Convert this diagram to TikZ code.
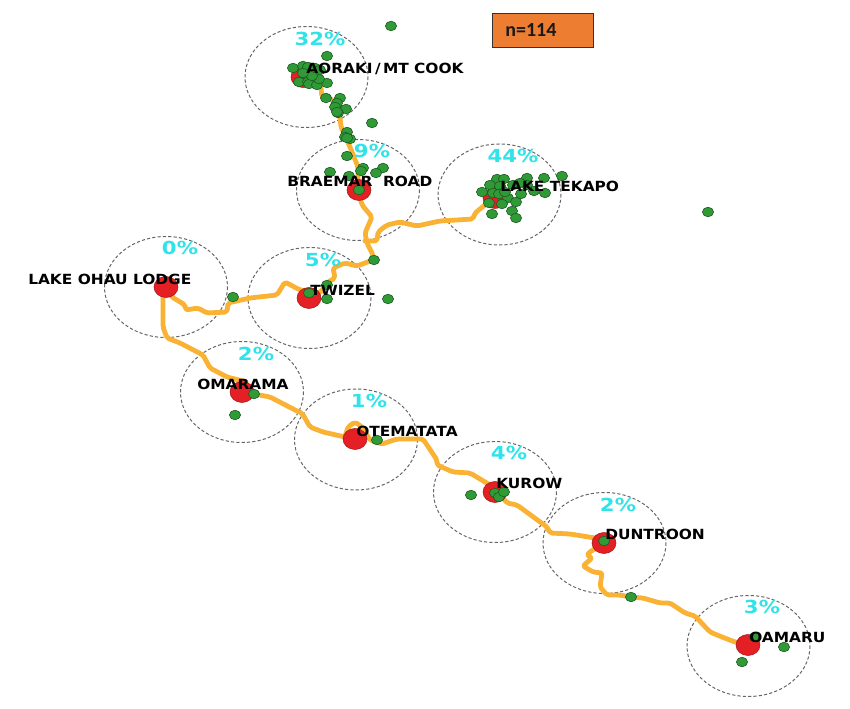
\documentclass[tikz,border=0pt]{standalone}
\usepackage{xcolor}
\usepackage{fontspec}
\setmainfont{DejaVu Sans}
\newfontfamily\boxfont{Carlito}
\newfontfamily\labfont[FakeStretch=1.1]{DejaVu Sans}
\newfontfamily\sharefont[FakeStretch=1.18]{DejaVu Sans}
\definecolor{route}{HTML}{F9B233}
\definecolor{town}{HTML}{E42024}
\definecolor{rec}{HTML}{2F9A36}
\definecolor{reced}{HTML}{1F5A24}
\definecolor{pct}{HTML}{2FE3E8}
\definecolor{boxfill}{HTML}{ED7D31}
\definecolor{ring}{HTML}{666666}
\usetikzlibrary{shapes.geometric}
\tikzset{
  trail/.style={draw=route, line width=3.6pt, line cap=round, line join=round, rounded corners=1.5pt},
  zone/.style={draw=ring, line width=0.75pt, dash pattern=on 2.4pt off 1.6pt},
  townpt/.style={fill=town, draw=town!70!black, line width=0.4pt},
  dot/.style={ellipse, fill=rec, draw=reced, line width=0.45pt, minimum width=8.4pt, minimum height=7.2pt, inner sep=0pt},
  lab/.style={anchor=west, font=\labfont\bfseries\fontsize{10.5}{12}\selectfont, text=black, inner sep=0pt},
  share/.style={font=\sharefont\bfseries\fontsize{13.5}{15}\selectfont, text=pct, inner sep=0pt},
  countbox/.style={anchor=west, fill=boxfill, draw=black!80, line width=0.5pt, text width=56.25pt, inner xsep=9.75pt,
    minimum height=25.5pt, font=\boxfont\bfseries\fontsize{15}{17}\selectfont, text=black!90},
}
\begin{document}
\begin{tikzpicture}[x=0.75pt,y=-0.75pt]
  \useasboundingbox (0,0) rectangle (850,709);

  % catchment zones
  \foreach \cx/\cy in {306.5/77,358/190,499.5/194.5,166/287,309.5/298,242/392,356/439.5,495/492,604.5/543,748.5/646}
    \draw[zone] (\cx,\cy) ellipse (61.5 and 50.5);

  % main road
  \draw[trail] (321,88) -- (322,97) -- (332,99) -- (340,117) -- (341,127) -- (350,147) -- (358,167) -- (358,190)
    -- (362,205) -- (372,217) -- (365,233) -- (367,243) -- (373,255) -- (373,260) -- (357,266) -- (345,263)
    -- (333,268) -- (335,278) -- (328,282) -- (320,293) -- (300,290) -- (285,282) -- (277,295) -- (250,298)
    -- (228,303) -- (227,312) -- (207,313) -- (198,308) -- (186,310) -- (185,305) -- (172,297) -- (166,290);
  % Tekapo branch
  \draw[trail] (365,241) -- (377,241) -- (378,232) -- (387,225) -- (400,222) -- (417,226) -- (440,221)
    -- (473,219) -- (475,213) -- (485,205) -- (495,198);
  % south from Ohau
  \draw[trail] (163,297) -- (163,327) -- (167,338) -- (180,343) -- (203,355) -- (210,368) -- (227,377) -- (247,382) -- (243,393);
  \draw[trail] (254,394) -- (270,397) -- (297,411) -- (302,413) -- (310,427) -- (323,432) -- (345,437) -- (348,427)
    -- (355,422) -- (362,427) -- (370,440) -- (382,444) -- (397,439) -- (423,439) -- (437,460) -- (437,465)
    -- (453,472) -- (470,473) -- (495,488) -- (507,503) -- (517,505) -- (547,527) -- (550,533) -- (570,534) -- (595,538);
  \draw[trail] (600,548) -- (592,550) -- (587,555) -- (592,558) -- (583,566) -- (593,572) -- (602,573) -- (600,587)
    -- (607,595) -- (620,595) -- (630,597) -- (643,598) -- (660,603) -- (670,603) -- (685,613) -- (695,616)
    -- (710,632) -- (722,637) -- (735,642) -- (748,645);

  % towns
  \foreach \tx/\ty in {303/77,359/190,495/198,166/287,309/298,242/392,355/439,495/492,604/543,748/645}
    \draw[townpt] (\tx,\ty) ellipse (12 and 10.5);

  % records
  \foreach \px/\py in {391/26,327/56,293/68,303/66,308/67,299/82,308/82,309/84,317/85,327/83,319/79,312/76,315/68,320/70,303/73,
    326/98,340/98,337/103,335/107,346/109,338/113,337/112,372/123,347/132,345/137,350/139,347/138,347/156,330/172,363/168,
    361/171,383/168,376/173,349/176,359/190,562/176,544/178,527/178,497/179,504/179,490/185,500/186,482/192,493/193,499/194,
    508/198,505/192,521/194,534/191,545/193,516/202,502/204,489/203,512/211,516/218,492/214,513/185,527/185,520/183,708/212,
    233/297,374/260,327/285,309/293,327/299,388/299,254/394,235/415,377/440,471/495,495/493,499/497,504/492,604/541,631/597,
    755/637,784/647,742/662}
    \node[dot] at (\px,\py) {};

  % place names
  \node[lab] (aoraki) at (306,69) {AORAKI\,/\,MT COOK};
  \node[lab] (braemar) at (287,181) {BRAEMAR\ \ ROAD};
  \node[lab] (tekapo) at (500,186) {LAKE TEKAPO};
  \node[lab] (ohau) at (28,279) {LAKE OHAU LODGE};
  \node[lab] (twizel) at (310,290) {TWIZEL};
  \node[lab] (omarama) at (197,384) {OMARAMA};
  \node[lab] (otematata) at (356,431) {OTEMATATA};
  \node[lab] (kurow) at (496,483) {KUROW};
  \node[lab] (duntroon) at (605,534) {DUNTROON};
  \node[lab] (oamaru) at (749,637) {OAMARU};

  % shares
  \node[share] at (320,39) {32\%};
  \node[share] at (372,151) {9\%};
  \node[share] at (513,156) {44\%};
  \node[share] at (180,248) {0\%};
  \node[share] at (323,260) {5\%};
  \node[share] at (256,354) {2\%};
  \node[share] at (369,401) {1\%};
  \node[share] at (509,453) {4\%};
  \node[share] at (618,505) {2\%};
  \node[share] at (762,607) {3\%};

  \node[countbox] (count) at (492,30) {n=114};
\end{tikzpicture}
\end{document}
